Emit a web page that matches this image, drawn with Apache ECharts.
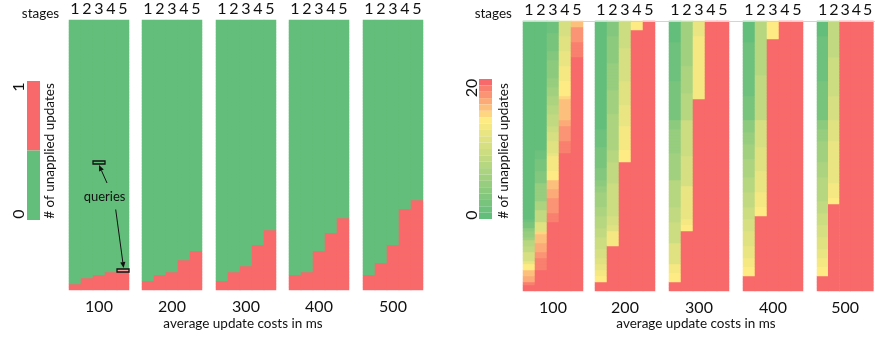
<!DOCTYPE html>
<html>
<head>
<meta charset="utf-8">
<script src="https://cdn.jsdelivr.net/npm/echarts@6/dist/echarts.min.js"></script>
<style>
  html, body { margin: 0; padding: 0; background: #fff; }
  #chart { width: 875px; height: 337px; }
</style>
</head>
<body>
<div id="chart"></div>
<script>
const stages = ['1', '2', '3', '4', '5'];
const costs = ['100', '200', '300', '400', '500'];
const rowCount = 90; // queries, row 0 is the bottom one

// left panel: how many bottom rows still have an unapplied update, per stage
const redRows100 = [2, 4, 5, 6, 6];
const redRows200 = [3, 5, 6, 10, 13];
const redRows300 = [3, 6, 8, 15, 20];
const redRows400 = [5, 6, 13, 19, 24];
const redRows500 = [5, 9, 15, 27, 30];

// right panel: runs of [unapplied updates, up to row], bottom to top, per stage
const runs100 = [
  [[21, 2], [20, 3], [18, 5], [17, 7], [15, 9], [13, 10], [11, 13], [9, 15], [8, 17], [6, 18], [5, 20], [4, 21], [2, 23], [1, 24], [0, 90]],
  [[21, 7], [20, 11], [19, 13], [18, 16], [17, 19], [16, 20], [12, 23], [9, 27], [7, 30], [5, 36], [3, 40], [2, 44], [1, 47], [0, 90]],
  [[21, 23], [20, 26], [19, 31], [18, 34], [17, 37], [15, 40], [14, 45], [13, 46], [12, 50], [11, 53], [10, 55], [9, 59], [8, 62], [7, 65], [6, 68], [5, 71], [4, 77], [3, 80], [2, 86], [1, 90]],
  [[21, 46], [20, 50], [19, 55], [18, 57], [17, 64], [16, 65], [15, 70], [14, 75], [13, 80], [12, 85], [11, 90]],
  [[21, 78], [20, 83], [19, 88], [17, 90]]
];
const runs200 = [
  [[21, 3], [15, 5], [14, 7], [13, 9], [12, 11], [11, 14], [10, 18], [9, 21], [8, 25], [7, 28], [6, 33], [5, 35], [4, 37], [3, 41], [2, 48], [1, 54], [0, 90]],
  [[21, 15], [14, 20], [12, 22], [11, 25], [10, 36], [9, 43], [8, 47], [7, 59], [6, 67], [5, 76], [4, 85], [3, 90]],
  [[21, 43], [15, 47], [14, 55], [13, 62], [12, 70], [11, 81], [10, 90]],
  [[21, 87], [15, 90]],
  [[21, 90]]
];
const runs300 = [
  [[21, 3], [15, 6], [14, 9], [12, 16], [10, 23], [9, 28], [8, 37], [6, 46], [5, 54], [4, 57], [2, 70], [1, 83], [0, 90]],
  [[21, 20], [15, 22], [14, 24], [13, 35], [11, 45], [10, 57], [8, 66], [7, 75], [6, 90]],
  [[21, 64], [14, 85], [13, 90]],
  [[21, 90]],
  [[21, 90]]
];
const runs400 = [
  [[21, 5], [15, 8], [14, 11], [13, 15], [12, 20], [11, 24], [10, 28], [9, 33], [8, 38], [7, 44], [6, 49], [5, 53], [4, 57], [2, 65], [1, 83], [0, 90]],
  [[21, 25], [15, 28], [14, 33], [13, 40], [12, 48], [11, 57], [9, 72], [8, 90]],
  [[21, 84], [15, 90]],
  [[21, 90]],
  [[21, 90]]
];
const runs500 = [
  [[21, 5], [15, 8], [14, 11], [13, 14], [12, 18], [11, 22], [10, 26], [9, 30], [8, 38], [7, 43], [6, 50], [5, 54], [4, 57], [2, 70], [1, 85], [0, 90]],
  [[21, 29], [15, 31], [14, 36], [13, 50], [12, 57], [11, 65], [10, 78], [9, 90]],
  [[21, 90]],
  [[21, 90]],
  [[21, 90]]
];

const leftData = [redRows100, redRows200, redRows300, redRows400, redRows500];
const rightData = [runs100, runs200, runs300, runs400, runs500];

const GREEN = '#63BE7B';
const RED = '#F8696B';
const FONT = 'Lato';
const rows = [];
for (let i = 0; i < rowCount; i++) rows.push(i);

const binaryCells = (redRows) => {
  const out = [];
  redRows.forEach((n, s) => {
    for (let r = 0; r < rowCount; r++) out.push([s, r, r < n ? 1 : 0]);
  });
  return out;
};

const runCells = (runs) => {
  const out = [];
  runs.forEach((col, s) => {
    let r = 0;
    col.forEach(([v, end]) => {
      for (; r < end; r++) out.push([s, r, v]);
    });
  });
  return out;
};

const grids = [], xAxes = [], yAxes = [], series = [];

// whole-pixel cells (12 x 3) so neighbouring cells leave no seams
const addGroup = (idx, left, top, cells) => {
  grids.push({ left, top, width: stages.length * 12, height: rowCount * 3 });
  xAxes.push({
    type: 'category', data: stages, gridIndex: idx, position: 'top',
    axisLine: { show: false }, axisTick: { show: false },
    axisLabel: { interval: 0, margin: 3, fontSize: 16, fontFamily: FONT, color: '#111' }
  });
  yAxes.push({ type: 'category', data: rows, gridIndex: idx, show: false });
  series.push({
    type: 'heatmap', xAxisIndex: idx, yAxisIndex: idx, data: cells,
    itemStyle: { borderWidth: 0 }, emphasis: { disabled: true }, silent: true
  });
};

const leftLefts = [69, 142, 216, 289, 363];
const rightLefts = [523, 595, 669, 743, 817];
leftData.forEach((d, i) => addGroup(i, leftLefts[i], 20, binaryCells(d)));
rightData.forEach((d, i) => addGroup(5 + i, rightLefts[i], 21, runCells(d)));

// cost labels under each group
for (let i = 0; i < 10; i++) {
  xAxes.push({
    type: 'category', data: stages, gridIndex: i, position: 'bottom',
    axisLine: { show: false }, axisTick: { show: false }, axisLabel: { show: false },
    name: costs[i % 5], nameLocation: 'middle', nameGap: 9,
    nameTextStyle: { fontSize: 16, fontFamily: FONT, color: '#111', verticalAlign: 'top' }
  });
}

const chart = echarts.init(document.getElementById('chart'), null, { renderer: 'canvas' });

const txt = (x, y, text, size, rot) => ({
  type: 'text', x, y, rotation: rot || 0, silent: true, z: 100,
  style: { text, fontSize: size, fontFamily: FONT, fill: '#111', align: 'center', verticalAlign: 'middle' }
});

chart.setOption({
  backgroundColor: '#fff',
  animation: false,
  grid: grids,
  xAxis: xAxes,
  yAxis: yAxes,
  visualMap: [{
    type: 'piecewise', seriesIndex: [0, 1, 2, 3, 4],
    pieces: [{ value: 0, color: GREEN }, { value: 1, color: RED }],
    orient: 'vertical', left: 27, top: 81, padding: 0,
    itemWidth: 13, itemHeight: 69.5, itemGap: 0, itemSymbol: 'rect',
    showLabel: false, selectedMode: false
  }, {
    type: 'piecewise', seriesIndex: [5, 6, 7, 8, 9],
    min: -0.5, max: 21.5, splitNumber: 22,
    inRange: { color: [GREEN, '#82C77D', '#A1D07F', '#C1D980', '#E0E282', '#FFEB84', '#FCAA78', RED] },
    orient: 'vertical', left: 479, top: 79, padding: 0,
    itemWidth: 13, itemHeight: 140 / 22, itemGap: 0, itemSymbol: 'rect',
    showLabel: false, selectedMode: false
  }],
  series
});

// annotation boxes on two query cells of the 100 ms group
const cellRect = (col, row) => {
  const a = chart.convertToPixel({ gridIndex: 0 }, [col, row]);
  const b = chart.convertToPixel({ gridIndex: 0 }, [col + 1, row + 1]);
  const w = b[0] - a[0], h = a[1] - b[1];
  return { x: a[0] - w / 2, y: a[1] - h / 2, width: w, height: h };
};
const box1 = cellRect(2, 42);
const box2 = cellRect(4, 6);

const arrow = (x1, y1, x2, y2) => {
  const ang = Math.atan2(y2 - y1, x2 - x1);
  const L = 6, W = 2.6;
  const bx = x2 - L * Math.cos(ang), by = y2 - L * Math.sin(ang);
  const nx = -Math.sin(ang) * W, ny = Math.cos(ang) * W;
  return [
    { type: 'line', silent: true, z: 100, shape: { x1, y1, x2: bx, y2: by }, style: { stroke: '#111', lineWidth: 1 } },
    { type: 'polygon', silent: true, z: 100, shape: { points: [[x2, y2], [bx + nx, by + ny], [bx - nx, by - ny]] }, style: { fill: '#111' } }
  ];
};

chart.setOption({
  graphic: [
    txt(40.5, 14, 'stages', 13.5),
    txt(493.3, 14, 'stages', 13.5),
    txt(19, 87, '1', 16, Math.PI / 2),
    txt(19, 214, '0', 16, Math.PI / 2),
    txt(50, 151, '# of unapplied updates', 13.5, Math.PI / 2),
    txt(471.5, 88, '20', 16, Math.PI / 2),
    txt(471.5, 215, '0', 16, Math.PI / 2),
    txt(503.5, 151, '# of unapplied updates', 13.5, Math.PI / 2),
    txt(243, 324, 'average update costs in ms', 13.5),
    txt(696, 324, 'average update costs in ms', 13.5),
    txt(104.5, 197, 'queries', 13),
    { type: 'line', silent: true, z: 100, shape: { x1: 523, y1: 21.5, x2: 875, y2: 21.5 }, style: { stroke: '#c9d6e3', lineWidth: 1 } },
    { type: 'rect', silent: true, z: 100, shape: box1, style: { fill: 'none', stroke: '#111', lineWidth: 1.3 } },
    { type: 'rect', silent: true, z: 100, shape: box2, style: { fill: '#F5A3A3', stroke: '#111', lineWidth: 1.3 } },
    ...arrow(107, 183, box1.x + box1.width / 2, box1.y + box1.height + 1),
    ...arrow(115.7, 209.5, box2.x + box2.width * 0.55, box2.y - 1)
  ]
});
</script>
</body>
</html>
